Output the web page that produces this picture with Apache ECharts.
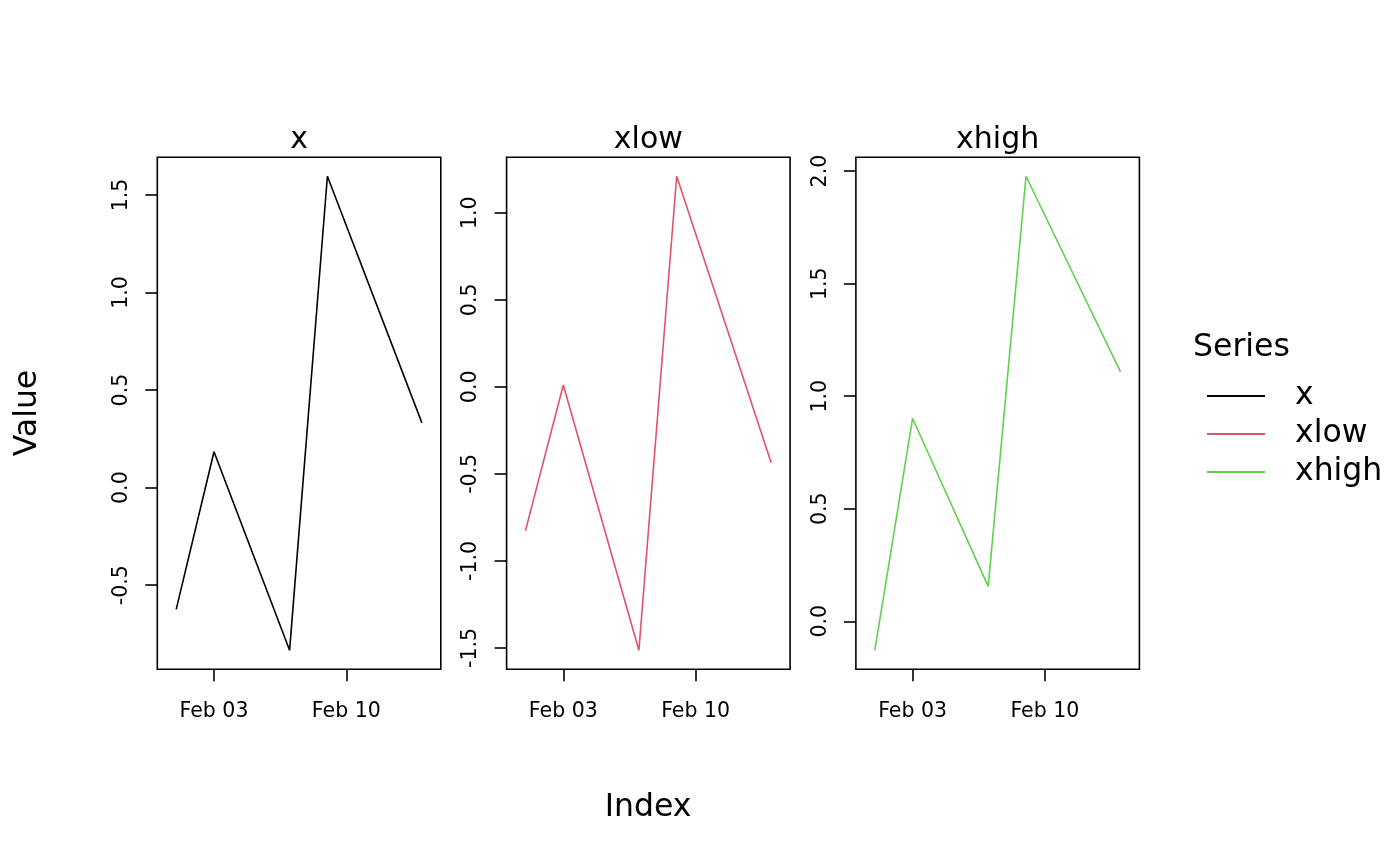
<!DOCTYPE html>
<html>
<head>
<meta charset="utf-8">
<script src="https://cdn.jsdelivr.net/npm/echarts@6/dist/echarts.min.js"></script>
<style>
  html, body { margin: 0; padding: 0; background: #fff; }
  #chart { width: 1400px; height: 866px; }
</style>
</head>
<body>
<div id="chart"></div>
<script>
// dates of the observations (Feb, day of month)
const days = [1, 3, 7, 9, 14];
const seriesNames = ['x', 'xlow', 'xhigh'];
const xValues = [-0.624, 0.184, -0.834, 1.596, 0.332];
const xlowValues = [-0.826, 0.011, -1.514, 1.210, -0.436];
const xhighValues = [-0.129, 0.901, 0.155, 1.977, 1.108];
const colors = ['#000000', '#DF536B', '#61D04F'];
const xTickDays = [3, 10];
const yTicks = [
    [-0.5, 0.0, 0.5, 1.0, 1.5],
    [-1.5, -1.0, -0.5, 0.0, 0.5, 1.0],
    [0.0, 0.5, 1.0, 1.5, 2.0]
];

const YEAR = 2024;
const ts = d => Date.UTC(YEAR, 1, d);
const allValues = [xValues, xlowValues, xhighValues];

const FONT = 'DejaVu Sans';
const gridLeft = [157.3, 506.6, 855.9];
const gridW = 283.5, gridTop = 157.3, gridH = 512;

function pad(n) { return n < 10 ? '0' + n : '' + n; }

// R style: data range stretched by 4% on each side
function yRange(vals) {
    const lo = Math.min(...vals), hi = Math.max(...vals);
    const ext = (hi - lo) * 0.04;
    return [lo - ext, hi + ext];
}

const grids = [], xAxes = [], yAxes = [], series = [], graphics = [];

seriesNames.forEach((name, i) => {
    grids.push({
        left: gridLeft[i], top: gridTop, width: gridW, height: gridH,
        show: true, borderColor: '#000', borderWidth: 1.6, backgroundColor: 'transparent'
    });
    // x is a plain numeric axis over millisecond timestamps
    xAxes.push({
        type: 'value', gridIndex: i,
        min: ts(0), max: ts(15),
        axisLine: { show: false, onZero: false },
        splitLine: { show: false },
        axisTick: {
            show: true, inside: false, length: 12,
            customValues: xTickDays.map(ts),
            lineStyle: { color: '#000', width: 1.6 }
        },
        axisLabel: {
            customValues: xTickDays.map(ts),
            margin: 32,
            fontFamily: FONT, fontSize: 20.5, color: '#000',
            formatter: v => 'Feb ' + pad(new Date(v).getUTCDate())
        }
    });
    const r = yRange(allValues[i]);
    yAxes.push({
        type: 'value', gridIndex: i,
        min: r[0], max: r[1],
        axisLine: { show: false, onZero: false },
        splitLine: { show: false },
        axisTick: {
            show: true, inside: false, length: 12,
            customValues: yTicks[i],
            lineStyle: { color: '#000', width: 1.6 }
        },
        axisLabel: {
            customValues: yTicks[i],
            rotate: 90,
            margin: 25,
            fontFamily: FONT, fontSize: 20.5, color: '#000',
            formatter: v => v.toFixed(1)
        }
    });
    series.push({
        name: name, type: 'line',
        xAxisIndex: i, yAxisIndex: i,
        data: days.map((d, k) => [ts(d), allValues[i][k]]),
        symbol: 'none', silent: true,
        lineStyle: { color: colors[i], width: 1.6 },
        itemStyle: { color: colors[i] }
    });
    graphics.push({
        type: 'text', x: gridLeft[i] + gridW / 2, y: 140,
        style: {
            text: name, fontFamily: FONT, fontSize: 30, fill: '#000',
            textAlign: 'center', textVerticalAlign: 'middle'
        }
    });
});

graphics.push({
    type: 'text', x: 648, y: 808,
    style: { text: 'Index', fontFamily: FONT, fontSize: 31.5, fill: '#000',
             textAlign: 'center', textVerticalAlign: 'middle' }
});
graphics.push({
    type: 'text', x: 28, y: 413, rotation: Math.PI / 2,
    style: { text: 'Value', fontFamily: FONT, fontSize: 31.5, fill: '#000',
             textAlign: 'center', textVerticalAlign: 'middle' }
});
graphics.push({
    type: 'text', x: 1193, y: 348,
    style: { text: 'Series', fontFamily: FONT, fontSize: 31.5, fill: '#000',
             textAlign: 'left', textVerticalAlign: 'middle' }
});

const chart = echarts.init(document.getElementById('chart'), null, { renderer: 'canvas' });
chart.setOption({
    animation: false,
    backgroundColor: '#fff',
    grid: grids,
    xAxis: xAxes,
    yAxis: yAxes,
    series: series,
    legend: {
        data: seriesNames.map(n => ({ name: n, icon: 'rect' })),
        orient: 'vertical',
        left: 1207, top: 377, padding: 0,
        itemWidth: 58, itemHeight: 2, itemGap: 0,
        selectedMode: false,
        textStyle: { fontFamily: FONT, fontSize: 31.5, lineHeight: 38, color: '#000', padding: [0, 0, 0, 25] }
    },
    graphic: graphics
});
</script>
</body>
</html>
